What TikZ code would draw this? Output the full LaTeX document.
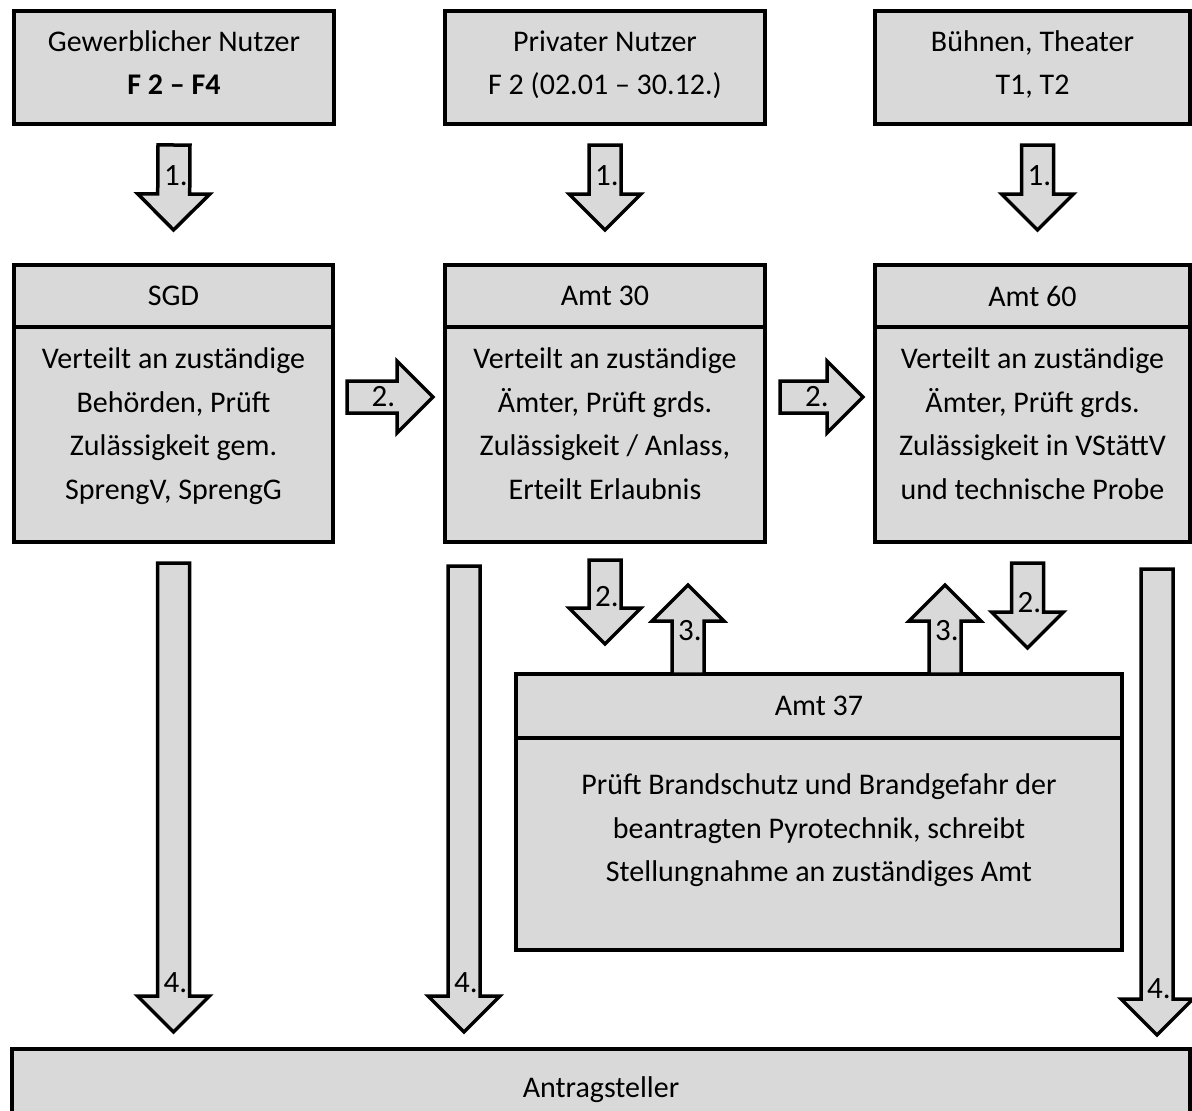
\documentclass[tikz,border=0pt]{standalone}
\usepackage{fontspec}
\setmainfont{Carlito}
\usepackage{xcolor}
\usetikzlibrary{positioning,calc}

\definecolor{boxgray}{RGB}{217,217,217}

\tikzset{
  box/.style={draw, line width=3.5pt, fill=boxgray, outer sep=0pt, inner sep=0pt,
    align=center, font=\fontsize{30}{43.5}\selectfont},
  fat/.style={draw, line width=3.5pt, fill=boxgray, to path={
    let \p1=(\tikztostart), \p2=(\tikztotarget), \p3=($(\p2)!36pt!(\p1)$) in
    ($(\p1)!16pt!90:(\p2)$) -- ($(\p3)!16pt!-90:(\p1)$) -- ($(\p3)!36pt!-90:(\p1)$) -- (\p2)
    -- ($(\p3)!36pt!90:(\p1)$) -- ($(\p3)!16pt!90:(\p1)$) -- ($(\p1)!16pt!-90:(\p2)$) -- cycle}},
  num/.style={font=\fontsize{31}{31}\selectfont, inner sep=0pt, xshift=2pt},
}

\begin{document}
\begin{tikzpicture}[x=1pt, y=-1pt]
  \path[use as bounding box] (0,0) rectangle (1192,1111);
  \clip (0,0) rectangle (1192,1111);

  % applicants
  \node[box, minimum width=320pt, minimum height=113pt, text depth=10pt] (gew) at (174,67.5) {Gewerblicher Nutzer\\\textbf{F 2 -- F4}};
  \node[box, minimum width=320pt, minimum height=113pt, text depth=10pt] (priv) at (605,67.5) {Privater Nutzer\\F 2 (02.01 -- 30.12.)};
  \node[box, minimum width=315pt, minimum height=113pt, text depth=10pt] (buehne) at (1032.5,67.5) {Bühnen, Theater\\T1, T2};

  % offices
  \node[box, minimum width=319pt, minimum height=62pt] (sgdt) at (173.5,296) {SGD};
  \node[box, minimum width=319pt, minimum height=215pt, text depth=22pt, below=0pt of sgdt] (sgd)
    {Verteilt an zuständige\\Behörden, Prüft\\Zulässigkeit gem.\\SprengV, SprengG};
  \node[box, minimum width=320pt, minimum height=62pt] (amt30t) at (605,296) {Amt 30};
  \node[box, minimum width=320pt, minimum height=215pt, text depth=22pt, below=0pt of amt30t] (amt30)
    {Verteilt an zuständige\\Ämter, Prüft grds.\\Zulässigkeit / Anlass,\\Erteilt Erlaubnis};
  \node[box, minimum width=315pt, minimum height=62pt] (amt60t) at (1032.5,296) {Amt 60};
  \node[box, minimum width=315pt, minimum height=215pt, text depth=22pt, below=0pt of amt60t] (amt60)
    {Verteilt an zuständige\\Ämter, Prüft grds.\\Zulässigkeit in VStättV\\und technische Probe};
  \node[box, minimum width=606pt, minimum height=64pt] (amt37t) at (819,706) {Amt 37};
  \node[box, minimum width=606pt, minimum height=212pt, text depth=32pt, below=0pt of amt37t] (amt37)
    {Prüft Brandschutz und Brandgefahr der\\beantragten Pyrotechnik, schreibt\\Stellungnahme an zuständiges Amt};
  \node[box, minimum width=1178pt, minimum height=81pt] (ant) at (601,1089.5) {Antragsteller};

  % arrow ends
  \coordinate (s1a) at ($(gew.south)+(0,21)$);     \coordinate (e1a) at ($(sgdt.north)+(0,-35)$);
  \coordinate (s1b) at ($(priv.south)+(0,21)$);    \coordinate (e1b) at ($(amt30t.north)+(0,-35)$);
  \coordinate (s1c) at ($(buehne.south)+(5,21)$);  \coordinate (e1c) at ($(amt60t.north)+(5,-35)$);
  \coordinate (s2a) at ($(sgd.north east)+(14,70)$);   \coordinate (e2a) at ($(amt30.north west)+(-12,70)$);
  \coordinate (s2b) at ($(amt30.north east)+(15,70)$); \coordinate (e2b) at ($(amt60.north west)+(-12,70)$);
  \coordinate (s2c) at ($(amt30.south)+(0,18)$);   \coordinate (e2c) at ($(amt30.south)+(0,102)$);
  \coordinate (s2d) at ($(amt60.south)+(-5,21)$);  \coordinate (e2d) at ($(amt60.south)+(-5,106)$);
  \coordinate (s3a) at ($(amt37t.north west)+(172,0)$);  \coordinate (e3a) at ($(amt30.south)+(83,43)$);
  \coordinate (s3b) at ($(amt37t.north east)+(-177,0)$); \coordinate (e3b) at ($(amt60.south)+(-87.5,43)$);
  \coordinate (s4a) at ($(sgd.south)+(0,21)$);     \coordinate (e4a) at ($(sgd.south |- ant.north)+(0,-17)$);
  \coordinate (s4b) at ($(amt30.south west)+(19,24)$); \coordinate (e4b) at ($(amt30.south west |- ant.north)+(19,-17)$);
  \coordinate (s4c) at ($(amt60.south east)+(-33,27)$); \coordinate (e4c) at ($(amt60.south east |- ant.north)+(-33,-14)$);

  \foreach \a/\t/\p in {1a/1./.36, 1b/1./.36, 1c/1./.36, 2a/2./.40, 2b/2./.42, 2c/2./.44, 2d/2./.46,
      3a/3./.49, 3b/3./.49, 4a/4./.895, 4b/4./.895, 4c/4./.90}{
    \draw[fat] (s\a) to (e\a);
    \node[num] (n\a) at ($(s\a)!\p!(e\a)$) {\t};
  }
\end{tikzpicture}
\end{document}
